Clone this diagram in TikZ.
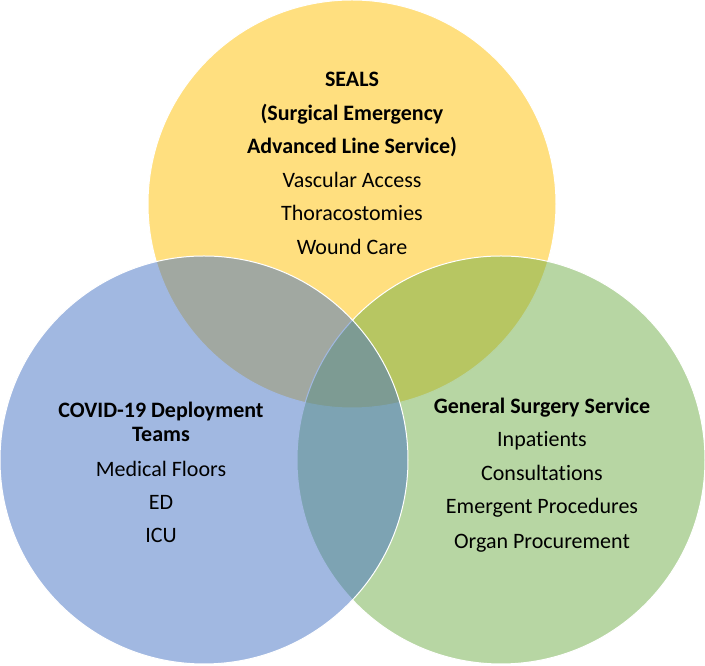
\documentclass[tikz,border=0pt]{standalone}
\usepackage{fontspec}
\setmainfont{Carlito}[Ligatures={NoCommon}]
\definecolor{vyellow}{HTML}{FFC000}
\definecolor{vblue}{HTML}{4472C4}
\definecolor{vgreen}{HTML}{70AD47}
\begin{document}
\begin{tikzpicture}[x=1pt,y=1pt,
  venn/.style={draw=white, line width=1pt, fill opacity=0.5, draw opacity=1},
  lbl/.style={anchor=base, inner sep=0pt, font=\fontsize{22}{26}\selectfont, text=black},
  hd/.style={lbl, font=\fontsize{22}{26}\selectfont\bfseries}]
\useasboundingbox (0,0) rectangle (705,666);
% circles (y measured upward)
\draw[venn, fill=vyellow] (352,462) circle (204);
\draw[venn, fill=vgreen] (501,206) circle (204);
\draw[venn, fill=vblue] (204,206) circle (204);
% top circle text
\node[hd]  (s1) at (352,666-87) {SEALS};
\node[hd]  (s2) at (352,666-120.5) {(Surgical Emergency};
\node[hd]  (s3) at (352,666-154) {Advanced Line Service)};
\node[lbl] (s4) at (352,666-187.5) {Vascular Access};
\node[lbl] (s5) at (352,666-221) {Thoracostomies};
\node[lbl] (s6) at (352,666-254.5) {Wound Care};
% left circle text
\node[hd]  (c1) at (161,666-417.5) {COVID-19 Deployment};
\node[hd]  (c2) at (161,666-441.5) {Teams};
\node[lbl] (c3) at (161,666-476.5) {Medical Floors};
\node[lbl] (c4) at (161,666-509.5) {ED};
\node[lbl] (c5) at (161,666-543) {ICU};
% right circle text
\node[hd]  (g1) at (542,666-413.5) {General Surgery Service};
\node[lbl] (g2) at (542,666-447) {Inpatients};
\node[lbl] (g3) at (542,666-480.5) {Consultations};
\node[lbl] (g4) at (542,666-514) {Emergent Procedures};
\node[lbl] (g5) at (542,666-548.5) {Organ Procurement};
\end{tikzpicture}
\end{document}
